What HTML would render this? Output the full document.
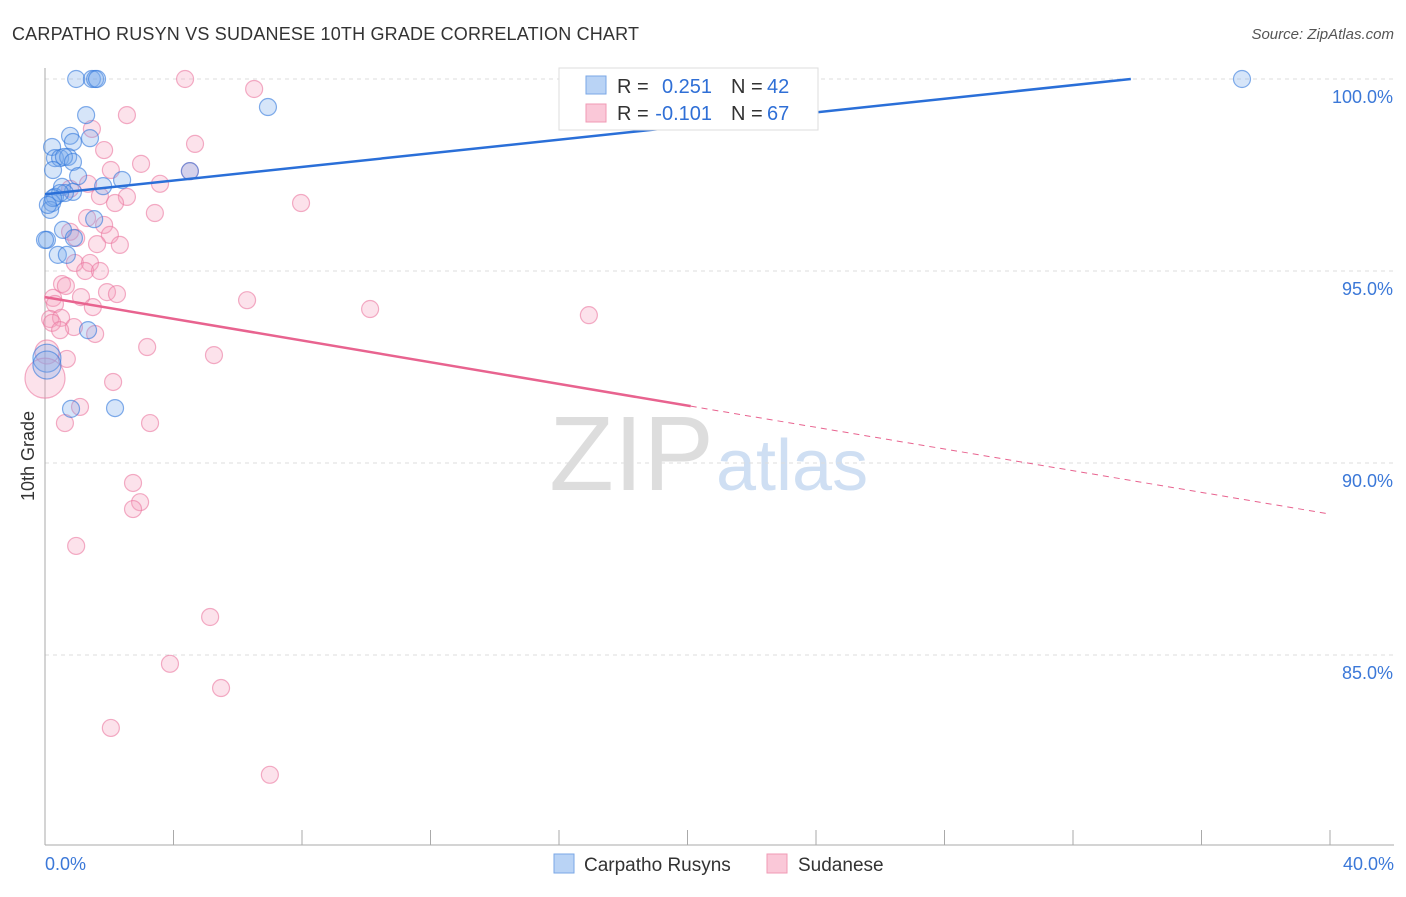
<!DOCTYPE html>
<html><head><meta charset="utf-8"><style>
body{margin:0;background:#fff;font-family:"Liberation Sans",sans-serif}
svg text{font-family:"Liberation Sans",sans-serif}
</style></head><body>
<svg id="chart" width="1406" height="892">
<text x="12" y="40" font-size="18" fill="#333" textLength="627">CARPATHO RUSYN VS SUDANESE 10TH GRADE CORRELATION CHART</text>
<text x="1394" y="39" font-size="15" fill="#555" font-style="italic" text-anchor="end">Source: ZipAtlas.com</text>
<text x="34" y="456" font-size="18" fill="#333" transform="rotate(-90 34 456)" text-anchor="middle">10th Grade</text>
<text x="714" y="490" font-size="106" fill="#ddd" text-anchor="end" font-family="Liberation Serif">ZIP</text>
<text x="716" y="490" font-size="72" fill="#cfdff3">atlas</text>
<g id="grid"></g>
<g id="marks"></g>
<g>
<rect x="559" y="68" width="259" height="62" fill="#fff" stroke="#ddd"/>
<rect x="586" y="76" width="20" height="18" fill="#b9d3f5" stroke="#7aa7e6"/>
<rect x="586" y="104" width="20" height="18" fill="#fac8d8" stroke="#f09ab5"/>
<text x="617" y="93" font-size="20" fill="#333">R =</text>
<text x="712" y="93" font-size="20" fill="#2f6fd6" text-anchor="end">0.251</text>
<text x="731" y="93" font-size="20" fill="#333">N =</text>
<text x="767" y="93" font-size="20" fill="#2f6fd6">42</text>
<text x="617" y="120" font-size="20" fill="#333">R =</text>
<text x="712" y="120" font-size="20" fill="#2f6fd6" text-anchor="end">-0.101</text>
<text x="731" y="120" font-size="20" fill="#333">N =</text>
<text x="767" y="120" font-size="20" fill="#2f6fd6">67</text>
</g>
<g>
<rect x="554" y="854" width="20" height="19" fill="#b9d3f5" stroke="#7aa7e6"/>
<text x="584" y="871" font-size="19" fill="#333">Carpatho Rusyns</text>
<rect x="767" y="854" width="20" height="19" fill="#fac8d8" stroke="#f09ab5"/>
<text x="798" y="871" font-size="19" fill="#333">Sudanese</text>
</g>
</svg>
<script>
const yTicks=[100,95,90,85];
const xTickLabels=["0.0%","40.0%"];
const blueX=[0.97,1.46,1.56,1.62,37.26,6.94,1.28,0.78,1.40,0.87,0.22,0.31,0.47,0.72,0.59,0.87,0.25,1.03,2.40,1.81,0.53,0.87,0.62,0.31,0.22,0.16,1.53,0.56,0.90,0.06,0.40,0.68,1.34,4.51,0.06,0.06,0.81,2.18,0.47,0.25,0.09,0.0];
const blueY=[100,100,100,100,100,99.27,99.06,98.52,98.46,98.36,98.23,97.94,97.94,97.97,97.97,97.84,97.63,97.47,97.37,97.21,97.19,97.06,97.03,96.93,96.77,96.59,96.35,96.07,95.86,95.81,95.42,95.42,93.46,97.6,92.73,92.55,91.41,91.43,97.03,96.9,96.72,95.81];
const pinkX=[4.36,6.51,2.55,1.46,4.67,1.84,2.99,2.05,4.51,3.58,1.34,1.71,2.55,2.18,7.97,3.42,1.31,1.84,0.78,2.02,0.97,1.62,2.33,0.93,1.40,1.25,1.71,0.53,0.65,1.93,2.24,0.25,1.12,6.29,0.31,1.49,10.12,16.93,0.16,0.50,0.22,0.90,0.47,1.56,3.18,5.26,0.68,0.06,0,2.12,1.09,0.62,3.27,2.74,2.96,2.74,0.97,5.14,3.89,5.48,2.05,7.00,0.78];
const pinkY=[100,99.74,99.06,98.70,98.31,98.15,97.79,97.63,97.60,97.27,97.27,96.95,96.93,96.77,96.77,96.51,96.38,96.20,96.02,95.94,95.86,95.70,95.68,95.21,95.21,95.0,95.0,94.66,94.61,94.45,94.40,94.30,94.32,94.24,94.14,94.06,94.01,93.85,93.75,93.78,93.65,93.54,93.46,93.36,93.02,92.81,92.71,92.89,92.21,92.11,91.46,91.04,91.04,89.48,88.98,88.80,87.84,85.99,84.77,84.14,83.10,81.88,97.14];
const blueLine=[0,97.0,33.8,100];
const pinkLine=[0,94.32,20.1,91.48,40,88.67];
const X=v=>45+v/40*1285;
const Y=v=>79+(100-v)*38.4;
const NS="http://www.w3.org/2000/svg";
const grid=document.getElementById('grid'),marks=document.getElementById('marks');
function mk(tag,attrs,parent){const e=document.createElementNS(NS,tag);for(const k in attrs)e.setAttribute(k,attrs[k]);parent.appendChild(e);return e;}
yTicks.forEach(t=>{
 const l=mk('line',{x1:45,x2:1394,y1:Y(t),y2:Y(t),stroke:'#ddd','stroke-dasharray':'4,4'},grid);
 
 
 const tx=mk('text',{x:1393,y:Y(t)+24,'font-size':18,fill:'#3b78d8','text-anchor':'end'},grid);
 tx.textContent=t.toFixed(1)+'%';
 
 
});
mk('line',{x1:45,x2:45,y1:68,y2:845,stroke:'#aaa'},grid);
mk('line',{x1:45,x2:1394,y1:845,y2:845,stroke:'#aaa'},grid);
for(let i=0;i<=10;i++){const t=mk('line',{x1:X(i*4),x2:X(i*4),y1:830,y2:845,stroke:'#aaa'},grid);}
[[0,'start',45],[40,'end',1394]].forEach((a,i)=>{const t=mk('text',{x:a[2],y:870,'font-size':18,fill:'#3b78d8','text-anchor':a[1]},grid);t.textContent=xTickLabels[i];});
pinkX.forEach((x,i)=>{
 const r=(x===0)?20:(x<0.1&&pinkY[i]>92.5)?12:8.5;
 const c=mk('circle',{cx:X(x),cy:Y(pinkY[i]),r:r,fill:'rgba(245,160,190,0.3)',stroke:'rgba(235,120,160,0.6)','stroke-width':1.2},marks);
 
 
});
blueX.forEach((x,i)=>{
 const r=(x<0.1&&blueY[i]<93)?14:8.5;
 const c=mk('circle',{cx:X(x),cy:Y(blueY[i]),r:r,fill:'rgba(120,170,235,0.3)',stroke:'rgba(50,120,220,0.6)','stroke-width':1.2},marks);
 
 
});
let l=mk('line',{x1:X(blueLine[0]),y1:Y(blueLine[1]),x2:X(blueLine[2]),y2:Y(blueLine[3]),stroke:'#2a6fd8','stroke-width':2.5},marks);


l=mk('line',{x1:X(pinkLine[0]),y1:Y(pinkLine[1]),x2:X(pinkLine[2]),y2:Y(pinkLine[3]),stroke:'#e8638f','stroke-width':2.5},marks);


l=mk('line',{x1:X(pinkLine[2]),y1:Y(pinkLine[3]),x2:X(pinkLine[4]),y2:Y(pinkLine[5]),stroke:'#e8638f','stroke-width':1,'stroke-dasharray':'6,5'},marks);


</script>
</body></html>
